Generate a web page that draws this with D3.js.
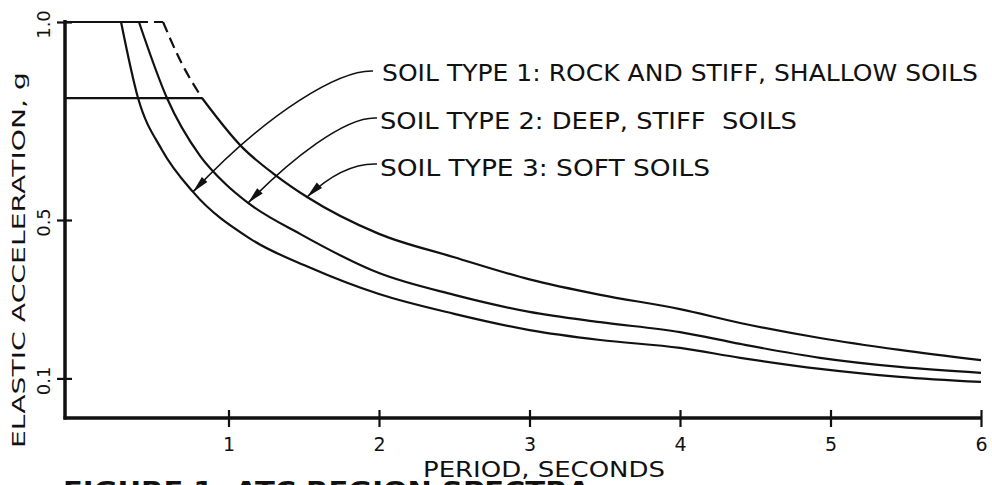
<!DOCTYPE html>
<html><head><meta charset="utf-8">
<script src="https://cdn.jsdelivr.net/npm/d3@7"></script>
<style>
body{margin:0;background:#fff}
svg{display:block}
text{font-family:"DejaVu Sans",sans-serif;fill:#111}
</style>
</head><body>
<svg id="c" width="992" height="485"></svg>
<script>
// ---- data ----
const periods1 = [0.286, 0.399, 0.558, 0.764, 1.143, 1.54, 2.0, 2.5, 3.0, 3.47, 4.0, 4.4, 4.93, 5.46, 6.0];
const soil1    = [1.0, 0.808, 0.677, 0.571, 0.453, 0.380, 0.313, 0.263, 0.222, 0.197, 0.177, 0.152, 0.124, 0.104, 0.091];

const periods2 = [0.405, 0.591, 0.811, 0.977, 1.13, 1.475, 2.0, 2.5, 3.0, 3.47, 4.0, 4.4, 4.93, 5.46, 6.0];
const soil2    = [1.0, 0.808, 0.662, 0.592, 0.543, 0.465, 0.366, 0.311, 0.268, 0.242, 0.217, 0.187, 0.152, 0.129, 0.114];

const periods3Dashed = [0.565, 0.678, 0.824];
const soil3Dashed    = [1.0, 0.904, 0.808];
const periods3 = [0.824, 1.09, 1.309, 1.522, 2.0, 2.5, 3.0, 3.47, 4.0, 4.4, 4.93, 5.46, 6.0];
const soil3    = [0.808, 0.684, 0.614, 0.558, 0.465, 0.406, 0.350, 0.311, 0.275, 0.240, 0.202, 0.172, 0.146];

const plateauHigh = 1.0;
const plateauLow = 0.808;
const plateauHighSolidEnd = 0.405;   // solid part of 1.0 line ends at soil 2 corner
const plateauHighDashEnd = 0.565;    // dashed continuation to soil 3 (dashed) corner
const plateauLowEnd = 0.824;

const xTickValues = [1, 2, 3, 4, 5, 6];
const xTickLabels = ["1", "2", "3", "4", "5", "6"];
const yTickValues = [0.1, 0.5, 1.0];
const yTickLabels = ["0.1", "0.5", "1.0"];

const legendLabels = [
  "SOIL TYPE 1: ROCK AND STIFF, SHALLOW SOILS",
  "SOIL TYPE 2: DEEP, STIFF  SOILS",
  "SOIL TYPE 3: SOFT SOILS"
];
const arrowPeriods = [0.764, 1.13, 1.522];
const arrowValues  = [0.571, 0.543, 0.558];

const xTitle = "PERIOD, SECONDS";
const yTitle = "ELASTIC ACCELERATION, g";
const figTitle = "FIGURE 1. ATC REGION SPECTRA";

// ---- layout ----
const svg = d3.select("#c");
const INK = "#111";
const axisX0 = 65;
const x = d3.scaleLinear().domain([0, 6]).range([78, 981]);
const y = d3.scaleLinear().domain([0, 1]).range([418, 22]);

const line = d3.line().x(d => x(d[0])).y(d => y(d[1])).curve(d3.curveMonotoneX);
const straight = d3.line().x(d => x(d[0])).y(d => y(d[1]));
const zip = (a, b) => a.map((v, i) => [v, b[i]]);
const xAxisT = x.invert(axisX0);

// plateau lines
svg.append("path").attr("d", straight([[xAxisT, plateauHigh], [plateauHighSolidEnd, plateauHigh]]))
  .attr("fill", "none").attr("stroke", INK).attr("stroke-width", 2.2);
svg.append("path").attr("d", straight([[plateauHighSolidEnd, plateauHigh], [plateauHighDashEnd, plateauHigh]]))
  .attr("fill", "none").attr("stroke", INK).attr("stroke-width", 2.2).attr("stroke-dasharray", "9,6");
svg.append("path").attr("d", straight([[xAxisT, plateauLow], [plateauLowEnd, plateauLow]]))
  .attr("fill", "none").attr("stroke", INK).attr("stroke-width", 2.2);

// curves
[[periods1, soil1], [periods2, soil2], [periods3, soil3]].forEach(([p, s]) => {
  svg.append("path").attr("d", line(zip(p, s)))
    .attr("fill", "none").attr("stroke", INK).attr("stroke-width", 2.2).attr("stroke-linejoin", "round");
});
svg.append("path").attr("d", line(zip(periods3Dashed, soil3Dashed)))
  .attr("fill", "none").attr("stroke", INK).attr("stroke-width", 2.2).attr("stroke-dasharray", "11,6");

// axes
const gx = svg.append("g").attr("transform", "translate(0,418)")
  .call(d3.axisBottom(x).tickValues(xTickValues).tickFormat((d, i) => xTickLabels[i]).tickSize(8));
gx.select(".domain").remove();
gx.selectAll(".tick line").attr("y1", -8).attr("y2", 9).attr("stroke", INK).attr("stroke-width", 2.2);
gx.selectAll(".tick text").attr("y", 33).attr("dy", 0).attr("font-size", 19)
  .attr("font-family", "DejaVu Sans").attr("fill", INK);

const gy = svg.append("g").attr("transform", `translate(${axisX0},0)`)
  .call(d3.axisLeft(y).tickValues(yTickValues).tickFormat((d, i) => yTickLabels[i]).tickSize(8));
gy.select(".domain").remove();
gy.selectAll(".tick line").attr("x1", -8).attr("x2", 7).attr("stroke", INK).attr("stroke-width", 2.2);
gy.selectAll(".tick text").attr("x", 0).attr("y", 0).attr("dy", 0)
  .attr("transform", "translate(-22,2) rotate(-90)")
  .attr("text-anchor", "middle").attr("dominant-baseline", "central")
  .attr("font-size", 18).attr("font-family", "DejaVu Sans").attr("fill", INK);

svg.append("line").attr("x1", axisX0).attr("x2", axisX0).attr("y1", 20).attr("y2", 419.5)
  .attr("stroke", INK).attr("stroke-width", 3.5);
svg.append("line").attr("x1", axisX0 - 1.5).attr("x2", x(6)).attr("y1", 418).attr("y2", 418)
  .attr("stroke", INK).attr("stroke-width", 3.5);

// axis titles
svg.append("text").attr("transform", "translate(19,260) rotate(-90)")
  .attr("text-anchor", "middle").attr("dominant-baseline", "central")
  .attr("font-size", 17).attr("textLength", 376).attr("lengthAdjust", "spacingAndGlyphs").text(yTitle);
svg.append("text").attr("x", 423).attr("y", 477).attr("font-size", 21)
  .attr("textLength", 242).attr("lengthAdjust", "spacingAndGlyphs").text(xTitle);
svg.append("text").attr("x", 63).attr("y", 499).attr("font-size", 24).attr("font-weight", "bold")
  .attr("textLength", 527).attr("lengthAdjust", "spacingAndGlyphs").text(figTitle);

// legend labels with leader arrows
const labelPos = [{x: 382, y: 81, w: 596}, {x: 380, y: 129, w: 417}, {x: 380, y: 176, w: 330}];
const leaderStart = [[373, 71], [377, 118], [377, 164]];
const leaderCtrl = [
  [[340, 70], [270, 110]],
  [[345, 116], [290, 160]],
  [[350, 163], [325, 180]]
];
legendLabels.forEach((t, i) => {
  svg.append("text").attr("x", labelPos[i].x).attr("y", labelPos[i].y).attr("font-size", 23)
    .attr("textLength", labelPos[i].w).attr("lengthAdjust", "spacingAndGlyphs")
    .style("white-space", "pre").text(t);
  const px = x(arrowPeriods[i]), py = y(arrowValues[i]);
  const [s, c] = [leaderStart[i], leaderCtrl[i]];
  const p = d3.path();
  p.moveTo(s[0], s[1]);
  p.bezierCurveTo(c[0][0], c[0][1], c[1][0], c[1][1], px, py);
  svg.append("path").attr("d", p.toString()).attr("fill", "none").attr("stroke", INK).attr("stroke-width", 1.6);
  // arrowhead
  const dx = px - c[1][0], dy = py - c[1][1];
  const L = Math.hypot(dx, dy), ux = dx / L, uy = dy / L;
  const len = 17, hw = 3.8;
  const bx = px - ux * len, by = py - uy * len;
  svg.append("polygon")
    .attr("points", `${px},${py} ${bx - uy * hw},${by + ux * hw} ${bx + uy * hw},${by - ux * hw}`)
    .attr("fill", INK);
});
</script>
</body></html>
